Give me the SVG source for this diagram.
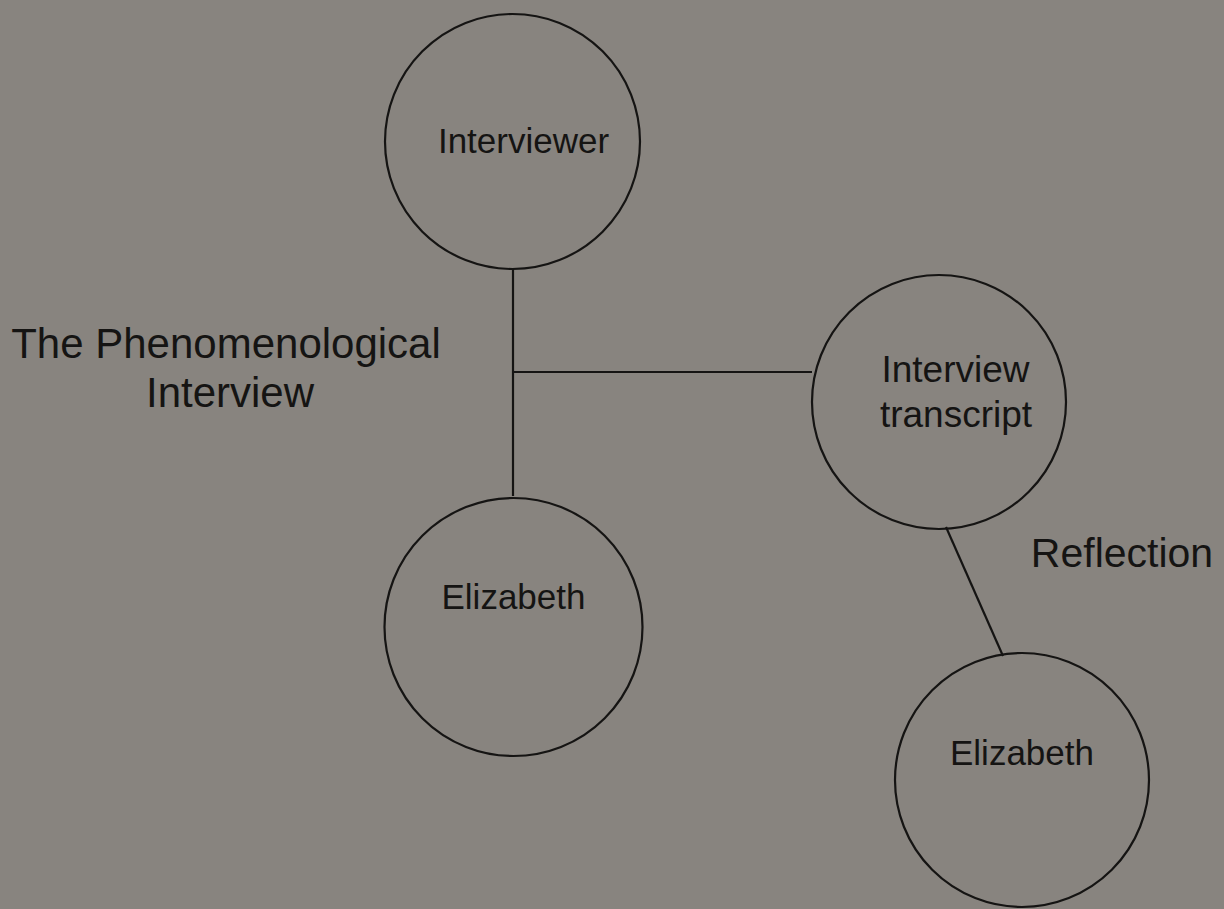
<svg xmlns="http://www.w3.org/2000/svg" width="1224" height="909" viewBox="0 0 1224 909">
<style>
.node{fill:none;stroke:#151413;stroke-width:2.2}
.conn{stroke:#151413;stroke-width:2.2;fill:none}
.lbl{font-family:"Liberation Sans",Arial,sans-serif;fill:#151413;text-anchor:middle}
</style>
<rect x="0" y="0" width="1224" height="909" fill="#88847f"/>
<g id="connectors">
<line class="conn" x1="513" y1="269" x2="513" y2="496"/>
<line class="conn" x1="513" y1="372" x2="812" y2="372"/>
<line class="conn" x1="946" y1="527" x2="1003" y2="656"/>
</g>
<g id="interviewer">
<circle class="node" cx="512.5" cy="141.5" r="127.5"/>
<text class="lbl" x="523.5" y="153" font-size="35">Interviewer</text>
</g>
<g id="elizabeth1">
<circle class="node" cx="513.5" cy="627" r="129"/>
<text class="lbl" x="513.5" y="609" font-size="35">Elizabeth</text>
</g>
<g id="transcript">
<circle class="node" cx="939" cy="402" r="127"/>
<text class="lbl" x="955.5" y="382" font-size="37">Interview</text>
<text class="lbl" x="956" y="427" font-size="37">transcript</text>
</g>
<g id="elizabeth2">
<circle class="node" cx="1022" cy="780" r="127"/>
<text class="lbl" x="1022" y="765" font-size="35">Elizabeth</text>
</g>
<g id="label-phenom">
<text class="lbl" x="226" y="358" font-size="42">The Phenomenological</text>
<text class="lbl" x="230" y="407" font-size="42">Interview</text>
</g>
<g id="label-reflection">
<text class="lbl" x="1122" y="567" font-size="41">Reflection</text>
</g>
</svg>
